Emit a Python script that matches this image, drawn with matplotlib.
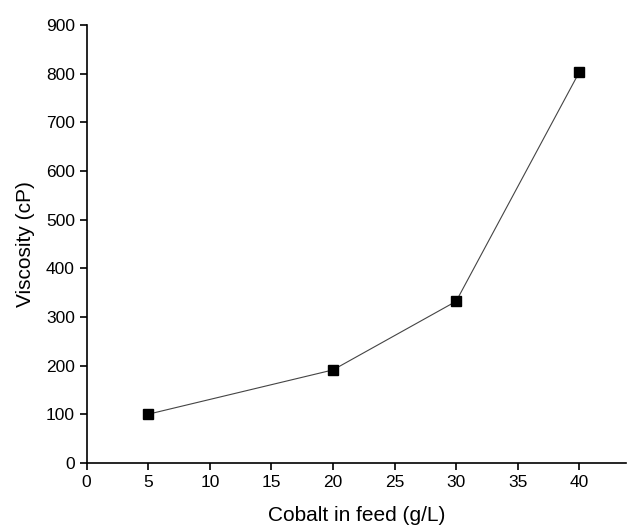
import matplotlib.pyplot as plt

plt.rcParams['font.family'] = ['Liberation Sans', 'DejaVu Sans']

cobalt = [5, 20, 30, 40]
viscosity = [100, 191, 332, 803]

fig = plt.figure(figsize=(6.28, 5.29), dpi=100)
ax = fig.add_axes([0.138, 0.125, 0.859, 0.828])

ax.plot(cobalt, viscosity, color='#444444', linewidth=0.8,
        marker='s', markersize=7, markerfacecolor='black', markeredgecolor='black')

ax.set_xlim(0, 43.8)
ax.set_ylim(0, 900)
ax.set_xticks(range(0, 45, 5))
ax.set_yticks(range(0, 1000, 100))

for side in ['top', 'right']:
    ax.spines[side].set_visible(False)
for side in ['left', 'bottom']:
    ax.spines[side].set_linewidth(1.2)
ax.tick_params(direction='out', length=5, width=1.2, labelsize=12.5)

ax.set_xlabel('Cobalt in feed (g/L)', fontsize=15, labelpad=12)
ax.set_ylabel('Viscosity (cP)', fontsize=15, labelpad=8)

fig.savefig('out.png', dpi=100)
